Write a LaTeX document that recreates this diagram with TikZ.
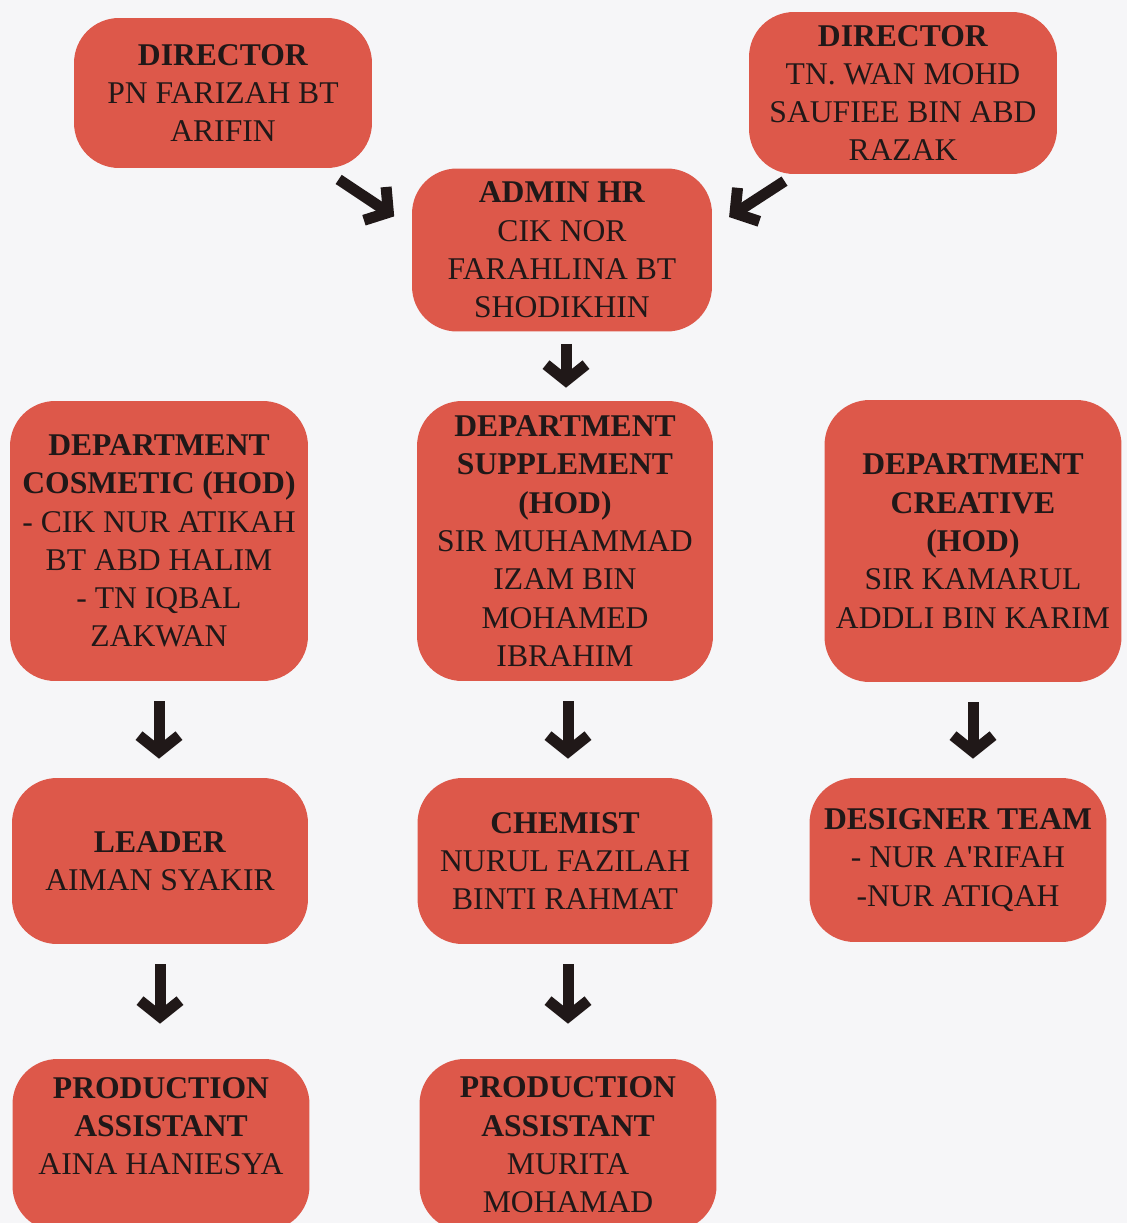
\documentclass[tikz,border=0pt]{standalone}
\usepackage{fontspec}
\setmainfont{Liberation Serif}
\usetikzlibrary{arrows.meta}

\definecolor{boxred}{RGB}{221,88,74}
\definecolor{paper}{RGB}{246,246,248}
\definecolor{ink}{RGB}{32,24,24}

\tikzset{
    orgbox/.style={draw=none, fill=boxred, rounded corners=0.9cm, align=center,
        text=ink, inner sep=0pt, font=\fontsize{18}{21.8}\selectfont},
    arr/.style={line width=0.22cm, draw=ink, -{Straight Barb[length=0.32cm, width=0.8cm]}}
}

\begin{document}
\begin{tikzpicture}[x=0.02cm, y=-0.02cm]
        % 画布
        \fill [paper] (0,0) rectangle (1127,1223);
        \useasboundingbox (0,0) rectangle (1127,1223);
        \clip (0,0) rectangle (1127,1223);

        % 第一层: 两位 director
        \node [orgbox, minimum width=5.96cm, minimum height=3.0cm] (dirA) at (223,93)
            {\textbf{DIRECTOR}\\PN FARIZAH BT\\ARIFIN};
        \node [orgbox, minimum width=6.16cm, minimum height=3.24cm] (dirB) at (903,93)
            {\textbf{DIRECTOR}\\TN. WAN MOHD\\SAUFIEE BIN ABD\\RAZAK};
        % admin
        \node [orgbox, minimum width=6.0cm, minimum height=3.26cm] (admin) at (562,250)
            {\textbf{ADMIN HR}\\CIK NOR\\FARAHLINA BT\\SHODIKHIN};

        % 三个 department
        \node [orgbox, minimum width=5.96cm, minimum height=5.6cm] (cosm) at (159,541)
            {\textbf{DEPARTMENT}\\\textbf{COSMETIC (HOD)}\\- CIK NUR ATIKAH\\BT ABD HALIM\\- TN IQBAL\\ZAKWAN};
        \node [orgbox, minimum width=5.92cm, minimum height=5.6cm] (supp) at (565,541)
            {\textbf{DEPARTMENT}\\\textbf{SUPPLEMENT}\\\textbf{(HOD)}\\SIR MUHAMMAD\\IZAM BIN\\MOHAMED\\IBRAHIM};
        \node [orgbox, minimum width=5.94cm, minimum height=5.64cm] (crea) at (973,541)
            {\textbf{DEPARTMENT}\\\textbf{CREATIVE}\\\textbf{(HOD)}\\SIR KAMARUL\\ADDLI BIN KARIM};

        % 第三层
        \node [orgbox, minimum width=5.92cm, minimum height=3.32cm] (lead) at (160,861)
            {\textbf{LEADER}\\AIMAN SYAKIR};
        \node [orgbox, minimum width=5.9cm, minimum height=3.32cm] (chem) at (565,861)
            {\textbf{CHEMIST}\\NURUL FAZILAH\\BINTI RAHMAT};
        \node [orgbox, minimum width=5.94cm, minimum height=3.28cm] (desi) at (958,860)
            {\textbf{DESIGNER TEAM}\\- NUR A\textquotesingle RIFAH\\-NUR ATIQAH};

        % production assistant
        \node [orgbox, minimum width=5.94cm, minimum height=3.44cm] (prodA) at (161,1145)
            {\textbf{PRODUCTION}\\\textbf{ASSISTANT}\\AINA HANIESYA\\~};
        \node [orgbox, minimum width=5.94cm, minimum height=3.44cm] (prodB) at (568,1145)
            {\textbf{PRODUCTION}\\\textbf{ASSISTANT}\\MURITA\\MOHAMAD};

        % 斜箭头
        \draw [arr, shorten <=0.4cm, shorten >=0.42cm]
            ([shift={(99,0)}]dirA.south) -- ([shift={(0,-22)}]admin.west);
        \draw [arr, shorten <=0.25cm, shorten >=0.4cm]
            ([shift={(-108,0)}]dirB.south) -- ([shift={(0,-22)}]admin.east);
        % 竖箭头
        \draw [arr, shorten <=0.24cm, shorten >=0.26cm] ([shift={(4,0)}]admin.south) -- ([shift={(1,0)}]supp.north);
        \draw [arr, shorten <=0.4cm, shorten >=0.38cm] (cosm.south) -- (cosm.south |- lead.north);
        \draw [arr, shorten <=0.4cm, shorten >=0.38cm] ([shift={(3,0)}]supp.south) -- ([shift={(3,0)}]supp.south |- chem.north);
        \draw [arr, shorten <=0.4cm, shorten >=0.38cm] (crea.south) -- (crea.south |- desi.north);
        \draw [arr, shorten <=0.4cm, shorten >=0.7cm] (lead.south) -- (lead.south |- prodA.north);
        \draw [arr, shorten <=0.4cm, shorten >=0.7cm] ([shift={(3,0)}]chem.south) -- ([shift={(3,0)}]chem.south |- prodB.north);
    \end{tikzpicture}
\end{document}
